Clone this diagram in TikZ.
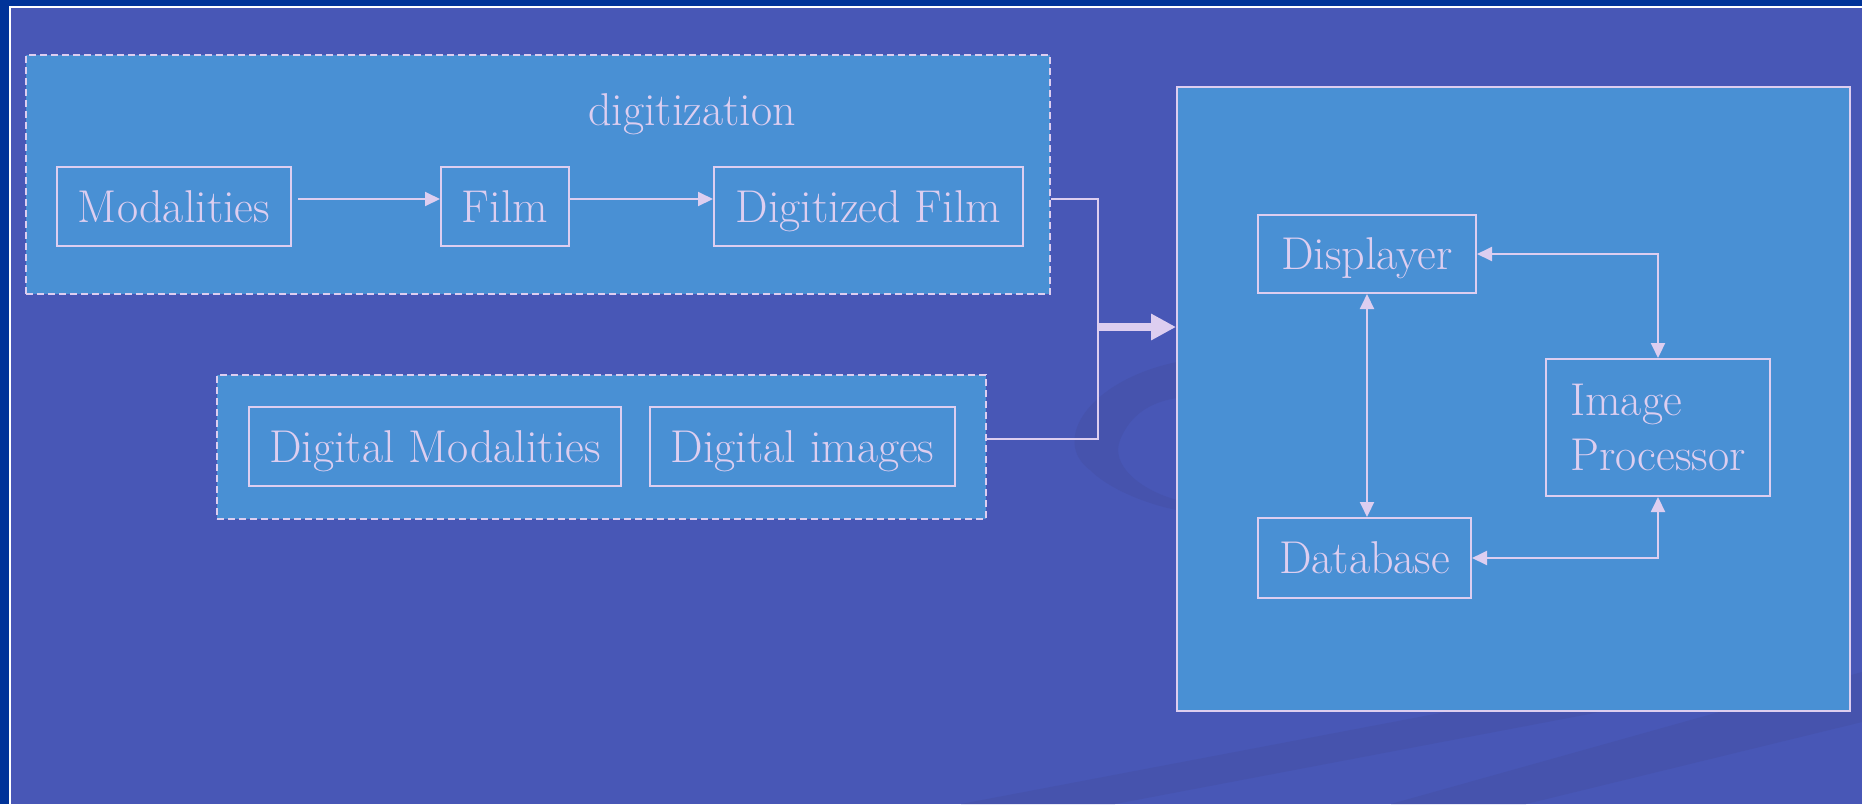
\documentclass[tikz,border=0pt]{standalone}
\usetikzlibrary{arrows.meta}
\definecolor{slidebg}{RGB}{72,87,182}
\definecolor{slideshade}{RGB}{70,83,173}
\definecolor{framedark}{RGB}{0,51,153}
\definecolor{panel}{RGB}{73,144,212}
\definecolor{lav}{RGB}{221,206,240}
\tikzset{
  txt/.style={text=lav, font=\fontsize{46}{55}\selectfont, inner sep=0pt},
  unit/.style={txt, draw=lav, line width=2pt, rectangle},
  oneline/.style={unit, text height=40pt, text depth=9pt},
  group/.style={fill=panel, draw=lav, line width=1.6pt, dash pattern=on 7pt off 4pt, inner sep=0pt},
  link/.style={draw=lav, line width=2pt, -{Triangle[length=15pt,width=14pt]}},
  twoway/.style={draw=lav, line width=2pt, {Triangle[length=15pt,width=14pt]}-{Triangle[length=15pt,width=14pt]}},
  wire/.style={draw=lav, line width=2pt},
  fatarrow/.style={draw=lav, line width=8pt, -{Triangle[length=25pt,width=25pt]}},
}
\begin{document}
\begin{tikzpicture}[x=1pt,y=-1pt]
\useasboundingbox (0,0) rectangle (1862,804);
% slide background with its decorations
\fill[slidebg] (0,0) rectangle (1862,804);
\fill[slideshade] (961,804) -- (1115,804) -- (1605,711) -- (1451,711) -- cycle;
\fill[slideshade] (1391,804) -- (1526,804) -- (1862,722) -- (1862,672) -- cycle;
\fill[slideshade] (1177,362) .. controls (1090,380) and (1050,440) .. (1090,470)
  .. controls (1110,490) and (1150,505) .. (1177,510) -- (1177,500)
  .. controls (1140,490) and (1110,465) .. (1120,440)
  .. controls (1130,415) and (1150,402) .. (1177,398) -- cycle;
\fill[framedark] (0,0) rectangle (1862,6);
\fill[framedark] (0,0) rectangle (9,804);
\fill[white] (9,6) rectangle (1862,7.5);
\fill[white] (9,6) rectangle (11,804);

% digitization group
\node[group, minimum width=1024pt, minimum height=239pt] (topgrp) at (538,174.5) {};
\node[txt] (dlabel) at (692,114.5) {digitization};
\node[oneline, minimum width=234pt, minimum height=79pt] (mod) at (174,206.5) {Modalities};
\node[oneline, minimum width=128pt, minimum height=79pt] (film) at (505,206.5) {Film};
\node[oneline, minimum width=309pt, minimum height=79pt] (dfilm) at (868.5,206.5) {Digitized Film};

% digital group
\node[group, minimum width=769pt, minimum height=144pt] (botgrp) at (601.5,447) {};
\node[oneline, minimum width=372pt, minimum height=79pt] (dmod) at (435,446.5) {Digital Modalities};
\node[oneline, minimum width=305pt, minimum height=79pt] (dimg) at (802.5,446.5) {Digital images};

% storage and processing system
\node[fill=panel, draw=lav, line width=2pt, minimum width=673pt, minimum height=624pt, inner sep=0pt] (sys) at (1513.5,399) {};
\node[oneline, minimum width=218pt, minimum height=78pt] (disp) at (1367,254) {Displayer};
\node[oneline, minimum width=213pt, minimum height=80pt] (db) at (1364.5,558) {Database};
\node[unit, minimum width=224pt, minimum height=137pt, align=left] (ip) at (1658,427.5) {Image\\Processor};

\coordinate (hub) at (1098,327);
\coordinate (dfout) at ([yshift=7.5pt]dfilm.east);

% connectors
\draw[link, shorten <=6pt] ([yshift=7.5pt]mod.east) -- ([yshift=7.5pt]film.west);
\draw[link] ([yshift=7.5pt]film.east) -- ([yshift=7.5pt]dfilm.west);
\draw[wire] (topgrp.east |- dfout) -| (hub) |- ([yshift=8pt]botgrp.east);
\draw[fatarrow] (hub) -- (sys.west |- hub);
\draw[twoway] (disp.south) -- (disp.south |- db.north);
\draw[twoway] (disp.east) -| (ip.north);
\draw[twoway] (db.east) -| (ip.south);
\end{tikzpicture}
\end{document}
